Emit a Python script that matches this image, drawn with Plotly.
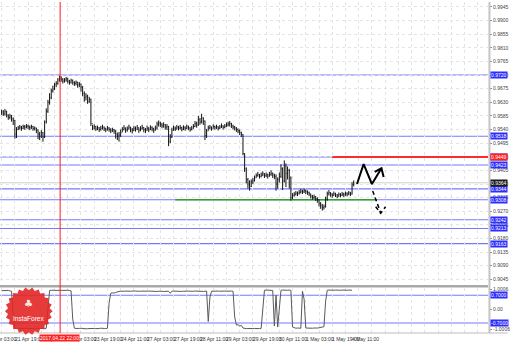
import numpy as np
import plotly.graph_objects as go

# ---------------- DATA ----------------
price_close = [
    0.9598, 0.9592, 0.9600, 0.9588, 0.9580, 0.9585, 0.9575, 0.9570,
    0.9525, 0.9540,
    0.9545, 0.9548, 0.9544, 0.9550, 0.9547, 0.9552, 0.9549, 0.9546, 0.9550, 0.9543, 0.9545, 0.9538,
    0.9525, 0.9518, 0.9530, 0.9515,
    0.9565, 0.9600, 0.9630,
    0.9645, 0.9668, 0.9675, 0.9688, 0.9692,
    0.9704, 0.9710, 0.9706, 0.9700,
    0.9704, 0.9708, 0.9700, 0.9696, 0.9703, 0.9695, 0.9692, 0.9696, 0.9688, 0.9690, 0.9680,
    0.9660, 0.9645, 0.9650, 0.9632, 0.9640,
    0.9560,
    0.9545, 0.9550, 0.9542, 0.9546, 0.9540, 0.9544, 0.9548, 0.9543, 0.9539, 0.9545, 0.9541, 0.9536, 0.9540, 0.9535,
    0.9525, 0.9518, 0.9522, 0.9530,
    0.9540, 0.9545, 0.9538, 0.9542, 0.9548, 0.9540, 0.9536, 0.9544, 0.9541, 0.9546, 0.9538, 0.9543, 0.9547, 0.9540,
    0.9537, 0.9544, 0.9540, 0.9546, 0.9542, 0.9538, 0.9545,
    0.9558, 0.9562, 0.9556,
    0.9552, 0.9556, 0.9548, 0.9550,
    0.9500, 0.9515,
    0.9538, 0.9545, 0.9542, 0.9548, 0.9544, 0.9547, 0.9541, 0.9546, 0.9543, 0.9549, 0.9545, 0.9540, 0.9544, 0.9550,
    0.9560, 0.9555, 0.9572, 0.9565, 0.9578, 0.9568,
    0.9520, 0.9535,
    0.9545, 0.9548, 0.9543, 0.9550, 0.9546, 0.9549, 0.9544, 0.9548, 0.9552, 0.9547, 0.9551, 0.9555, 0.9558,
    0.9560, 0.9552, 0.9548, 0.9545, 0.9540, 0.9536, 0.9530, 0.9524,
    0.9460, 0.9410, 0.9375, 0.9360, 0.9352,
    0.9368, 0.9372, 0.9380,
    0.9388, 0.9392, 0.9385, 0.9390, 0.9394, 0.9388, 0.9391, 0.9386, 0.9392, 0.9395, 0.9389, 0.9385,
    0.9360, 0.9375, 0.9385,
    0.9410, 0.9370, 0.9420, 0.9395, 0.9405, 0.9380,
    0.9315,
    0.9322, 0.9326, 0.9330, 0.9328, 0.9332, 0.9336, 0.9334, 0.9338, 0.9335, 0.9332, 0.9328,
    0.9320, 0.9315, 0.9318, 0.9312, 0.9308,
    0.9295, 0.9290, 0.9282, 0.9285,
    0.9310, 0.9328, 0.9332,
    0.9326, 0.9322, 0.9328, 0.9324, 0.9320, 0.9325, 0.9323, 0.9327, 0.9324, 0.9328, 0.9326, 0.9330, 0.9327,
    0.9358, 0.9364,
]
price_high = [
    0.9606, 0.9604, 0.9608, 0.9602, 0.9590, 0.9592, 0.9588, 0.9580,
    0.9572, 0.9548,
    0.9552, 0.9555, 0.9552, 0.9556, 0.9555, 0.9558, 0.9556, 0.9553, 0.9556, 0.9552, 0.9550, 0.9546,
    0.9540, 0.9532, 0.9538, 0.9532,
    0.9570, 0.9610, 0.9638,
    0.9660, 0.9675, 0.9685, 0.9694, 0.9700,
    0.9710, 0.9718, 0.9716, 0.9710,
    0.9710, 0.9714, 0.9711, 0.9704, 0.9708, 0.9705, 0.9700, 0.9702, 0.9698, 0.9697, 0.9692,
    0.9684, 0.9666, 0.9660, 0.9655, 0.9648,
    0.9642,
    0.9556, 0.9557, 0.9552, 0.9553, 0.9548, 0.9552, 0.9556, 0.9550, 0.9546, 0.9552, 0.9548, 0.9544, 0.9546, 0.9542,
    0.9538, 0.9530, 0.9532, 0.9540,
    0.9548, 0.9554, 0.9547, 0.9550, 0.9556, 0.9549, 0.9545, 0.9552, 0.9550, 0.9555, 0.9547, 0.9551, 0.9556, 0.9548,
    0.9545, 0.9553, 0.9548, 0.9554, 0.9551, 0.9546, 0.9553,
    0.9566, 0.9570, 0.9566,
    0.9562, 0.9564, 0.9558, 0.9558,
    0.9552, 0.9525,
    0.9546, 0.9553, 0.9550, 0.9555, 0.9552, 0.9555, 0.9549, 0.9554, 0.9551, 0.9556, 0.9553, 0.9548, 0.9552, 0.9558,
    0.9568, 0.9566, 0.9585, 0.9578, 0.9592, 0.9580,
    0.9570, 0.9542,
    0.9553, 0.9555, 0.9550, 0.9557, 0.9553, 0.9556, 0.9551, 0.9555, 0.9560, 0.9554, 0.9558, 0.9563, 0.9566,
    0.9568, 0.9562, 0.9556, 0.9552, 0.9548, 0.9544, 0.9540, 0.9533,
    0.9525, 0.9462, 0.9415, 0.9380, 0.9372,
    0.9375, 0.9380, 0.9388,
    0.9395, 0.9400, 0.9393, 0.9398, 0.9402, 0.9396, 0.9398, 0.9394, 0.9400, 0.9405, 0.9398, 0.9394,
    0.9392, 0.9382, 0.9398,
    0.9425, 0.9415, 0.9438, 0.9428, 0.9418, 0.9410,
    0.9385,
    0.9330, 0.9333, 0.9337, 0.9335, 0.9340, 0.9344, 0.9341, 0.9345, 0.9342, 0.9339, 0.9335,
    0.9328, 0.9324, 0.9325, 0.9320, 0.9316,
    0.9310, 0.9300, 0.9294, 0.9292,
    0.9318, 0.9335, 0.9340,
    0.9333, 0.9330, 0.9335, 0.9331, 0.9327, 0.9332, 0.9330, 0.9334, 0.9331, 0.9335, 0.9333, 0.9337, 0.9334,
    0.9366, 0.9372,
]
price_low = [
    0.9588, 0.9585, 0.9586, 0.9580, 0.9572, 0.9574, 0.9566, 0.9555,
    0.9510, 0.9512,
    0.9538, 0.9540, 0.9536, 0.9541, 0.9539, 0.9544, 0.9541, 0.9538, 0.9542, 0.9536, 0.9537, 0.9528,
    0.9508, 0.9505, 0.9512, 0.9500,
    0.9512, 0.9560, 0.9595,
    0.9622, 0.9640, 0.9662, 0.9670, 0.9680,
    0.9688, 0.9698, 0.9698, 0.9692,
    0.9695, 0.9698, 0.9692, 0.9688, 0.9692, 0.9688, 0.9684, 0.9686, 0.9678, 0.9680, 0.9665,
    0.9650, 0.9632, 0.9636, 0.9625, 0.9628,
    0.9552,
    0.9538, 0.9540, 0.9535, 0.9538, 0.9532, 0.9536, 0.9540, 0.9535, 0.9531, 0.9537, 0.9533, 0.9528, 0.9532, 0.9526,
    0.9510, 0.9505, 0.9500, 0.9515,
    0.9532, 0.9537, 0.9529, 0.9533, 0.9540, 0.9531, 0.9527, 0.9535, 0.9533, 0.9538, 0.9529, 0.9534, 0.9539, 0.9531,
    0.9528, 0.9536, 0.9531, 0.9538, 0.9534, 0.9529, 0.9536,
    0.9540, 0.9550, 0.9548,
    0.9544, 0.9546, 0.9540, 0.9538,
    0.9485, 0.9495,
    0.9512, 0.9536, 0.9535, 0.9540, 0.9537, 0.9540, 0.9534, 0.9538, 0.9536, 0.9542, 0.9538, 0.9533, 0.9537, 0.9543,
    0.9548, 0.9546, 0.9552, 0.9556, 0.9560, 0.9555,
    0.9505, 0.9512,
    0.9536, 0.9540, 0.9536, 0.9543, 0.9539, 0.9542, 0.9537, 0.9541, 0.9545, 0.9540, 0.9544, 0.9548, 0.9550,
    0.9550, 0.9545, 0.9540, 0.9537, 0.9532, 0.9528, 0.9522, 0.9515,
    0.9455, 0.9400, 0.9362, 0.9345, 0.9338,
    0.9350, 0.9360, 0.9368,
    0.9380, 0.9384, 0.9378, 0.9382, 0.9386, 0.9380, 0.9383, 0.9378, 0.9384, 0.9387, 0.9380, 0.9376,
    0.9338, 0.9345, 0.9365,
    0.9380, 0.9340, 0.9365, 0.9350, 0.9375, 0.9345,
    0.9305,
    0.9310, 0.9318, 0.9322, 0.9320, 0.9325, 0.9329, 0.9327, 0.9330, 0.9327, 0.9324, 0.9320,
    0.9312, 0.9308, 0.9310, 0.9304, 0.9298,
    0.9286, 0.9278, 0.9272, 0.9275,
    0.9282, 0.9305, 0.9322,
    0.9318, 0.9315, 0.9321, 0.9317, 0.9313, 0.9318, 0.9316, 0.9320, 0.9317, 0.9321, 0.9319, 0.9323, 0.9320,
    0.9325, 0.9352,
]

indicator = (
    [0.93, 0.94, 0.95, 0.93, 0.94, 0.92, 0.90]
    + [-0.30]
    + [-0.97, -0.98, -0.96, -0.98, -0.97, -0.99, -0.98, -0.96, -0.97, -0.98,
       -0.99, -0.97, -0.98, -0.96, -0.97, -0.98, -0.99, -0.97, -0.98, -0.96]
    + [0.20]
    + [0.94, 0.95, 0.96, 0.95, 0.94, 0.95, 0.96, 0.95, 0.94, 0.95, 0.96, 0.95, 0.94, 0.92]
    + [-0.50]
    + [-0.96, -0.97, -0.98, -0.97, -0.96, -0.98, -0.97, -0.99, -0.98, -0.97, -0.96,
       -0.98, -0.97, -0.98, -0.99, -0.97, -0.96, -0.98, -0.97, -0.98, -0.96]
    + [0.30]
    + [0.80, 0.82, 0.81, 0.84]
    + [0.88, 0.89, 0.90, 0.89, 0.90, 0.91, 0.90, 0.89, 0.90, 0.91, 0.92, 0.91, 0.90, 0.89, 0.90, 0.91,
       0.90, 0.89, 0.90, 0.91, 0.90, 0.92, 0.91, 0.90, 0.89, 0.90, 0.91, 0.90, 0.89, 0.90, 0.91, 0.90]
    + [0.80]
    + [0.90, 0.91, 0.90, 0.92, 0.91, 0.90, 0.89, 0.90, 0.91, 0.92, 0.91,
       0.90, 0.89, 0.90, 0.91, 0.90, 0.92, 0.91, 0.90, 0.89, 0.90, 0.91]
    + [-0.62]
    + [0.60]
    + [0.90, 0.91, 0.90, 0.92, 0.91, 0.90, 0.91, 0.92, 0.91, 0.90, 0.91, 0.92, 0.91, 0.90]
    + [-0.40]
    + [-0.80, -0.78, -0.85, -0.82, -0.95, -0.97, -0.98, -0.97, -0.98, -0.99, -0.98, -0.97, -0.98, -0.99, -0.98, -0.97]
    + [0.10]
    + [0.95, 0.96, 0.95, 0.96, 0.95, 0.94]
    + [-0.85]
    + [0.70]
    + [-0.90]
    + [0.20]
    + [0.95, 0.96, 0.95, 0.96, 0.95, 0.96, 0.94]
    + [-0.90]
    + [-0.95, -0.96, -0.95, -0.97, -0.96]
    + [0.90]
    + [0.50]
    + [-0.95, -0.96, -0.95, -0.97, -0.96, -0.95, -0.96, -0.95, -0.94, -0.92, -0.90, -0.88]
    + [0.40]
    + [0.95, 0.96, 0.95, 0.96, 0.95, 0.96, 0.95, 0.96, 0.95, 0.96, 0.95, 0.96, 0.95, 0.96, 0.95, 0.95]
)

price_ticks = [0.9945, 0.9900, 0.9855, 0.9810, 0.9765, 0.9720, 0.9675, 0.9630, 0.9585, 0.9540,
               0.9495, 0.9450, 0.9405, 0.9360, 0.9315, 0.9270, 0.9225, 0.9180, 0.9135, 0.9090, 0.9045]

time_label_bars = [-8, 8, 24, 40, 56, 72, 88, 104, 120, 136, 152, 168, 184, 200, 212]
time_labels = ["21 Apr 03:00", "21 Apr 19:00", "22 Apr 11:00", "23 Apr 03:00", "23 Apr 19:00",
               "24 Apr 11:00", "27 Apr 03:00", "27 Apr 19:00", "28 Apr 11:00", "29 Apr 03:00",
               "29 Apr 19:00", "30 Apr 11:00", "1 May 03:00", "1 May 19:00", "4 May 11:00"]

blue_levels = [0.9720, 0.9518, 0.9449, 0.9423, 0.9344, 0.9308, 0.9242, 0.9213, 0.9163]
red_level = 0.9449
red_start_bar = 200
green_level = 0.9308
green_bars = [105, 227]

indicator_levels = [0.7, -0.7]
indicator_tickvals = [1.0, 0.0, -1.0]
indicator_ticktext = ["1.0006", "0.00", "-1.0006"]

cursor_bar = 35
cursor_label = "2017.04.22 22:00"

forecast_up_bars = [215, 219, 224, 229.8, None, 225.7, 229.8, 231.1]
forecast_up_prices = [0.9360, 0.9426, 0.9360, 0.9412, None, 0.9400, 0.9412, 0.9383]
forecast_down_bars = [224.5, 229.3, None, 226.3, 229.3, 232.3]
forecast_down_prices = [0.9337, 0.9265, None, 0.9285, 0.9263, 0.9285]

# ---------------- FIGURE ----------------
n = len(price_close)
bars = list(range(n))
price_open = [price_close[0]] + price_close[:-1]

BLUE_LINE = "#7777ff"
BLUE_LABEL = "#2d2dff"
GRID = "#e4e4e4"
FONT = "Liberation Sans"
X_RANGE = [-1, 294.25]

fig = go.Figure()
fig.add_trace(go.Ohlc(
    x=bars, open=price_open, high=price_high, low=price_low, close=price_close,
    increasing=dict(line=dict(color="#111111", width=1)),
    decreasing=dict(line=dict(color="#111111", width=1)),
    tickwidth=0.3, xaxis="x", yaxis="y", showlegend=False, hoverinfo="skip"))

fig.add_trace(go.Scatter(
    x=list(range(len(indicator))), y=indicator, mode="lines",
    line=dict(color="#5a5a5a", width=1), xaxis="x2", yaxis="y2",
    showlegend=False, hoverinfo="skip"))

fig.add_trace(go.Scatter(
    x=forecast_up_bars, y=forecast_up_prices, mode="lines",
    line=dict(color="#000000", width=2), xaxis="x", yaxis="y",
    showlegend=False, hoverinfo="skip", cliponaxis=False))
fig.add_trace(go.Scatter(
    x=forecast_down_bars, y=forecast_down_prices, mode="lines",
    line=dict(color="#000000", width=1.5, dash="4px,3px"), xaxis="x", yaxis="y",
    showlegend=False, hoverinfo="skip", cliponaxis=False))

shapes = []
annotations = []
label_font = dict(family=FONT, size=5, color="#ffffff")

# bid line
shapes.append(dict(type="line", xref="paper", x0=0, x1=1, yref="y", y0=price_close[-1], y1=price_close[-1],
                   line=dict(color="#d0d0d0", width=1), layer="between"))

for lv in blue_levels:
    shapes.append(dict(type="line", xref="paper", x0=0, x1=1, yref="y", y0=lv, y1=lv,
                       line=dict(color=BLUE_LINE, width=1.1), layer="between"))
    annotations.append(dict(xref="paper", x=1, xanchor="left", xshift=2, yref="y", y=lv,
                            text=f"{lv:.4f}", showarrow=False, font=label_font,
                            bgcolor=BLUE_LABEL, borderpad=0))

shapes.append(dict(type="line", xref="x", x0=red_start_bar, x1=X_RANGE[1], yref="y", y0=red_level, y1=red_level,
                   line=dict(color="#ff2a2a", width=2), layer="between"))
annotations.append(dict(xref="paper", x=1, xanchor="left", xshift=2, yref="y", y=red_level,
                        text=f"{red_level:.4f}", showarrow=False, font=label_font,
                        bgcolor="#ff2020", borderpad=0))
shapes.append(dict(type="line", xref="x", x0=green_bars[0], x1=green_bars[1], yref="y",
                   y0=green_level, y1=green_level, line=dict(color="#2ea02e", width=1.3), layer="between"))

annotations.append(dict(xref="paper", x=1, xanchor="left", xshift=2, yref="y", y=price_close[-1],
                        text=f"{price_close[-1]:.4f}", showarrow=False, font=label_font,
                        bgcolor="#1a1a1a", borderpad=0))

for lv in indicator_levels:
    shapes.append(dict(type="line", xref="paper", x0=0, x1=1, yref="y2", y0=lv, y1=lv,
                       line=dict(color=BLUE_LINE, width=1.1), layer="between"))
    annotations.append(dict(xref="paper", x=1, xanchor="left", xshift=2, yref="y2", y=lv,
                            text=f"{lv:.4f}", showarrow=False, font=label_font,
                            bgcolor=BLUE_LABEL, borderpad=0))

# separators
shapes.append(dict(type="line", xref="paper", x0=0, x1=1, yref="paper", y0=0.1411, y1=0.1411,
                   line=dict(color="#a8a8a8", width=2.5), layer="above"))
shapes.append(dict(type="line", xref="paper", x0=1.003, x1=1.003, yref="paper", y0=0, y1=1,
                   line=dict(color="#c4c4c4", width=2), layer="above"))
shapes.append(dict(type="line", xref="paper", x0=0, x1=1.04, yref="paper", y0=0, y1=0,
                   line=dict(color="#bdbdbd", width=1), layer="above"))

# cursor vertical line (red, full height)
W, H = 491.0, 333.0
x_span = X_RANGE[1] - X_RANGE[0]
cursor_px = round((cursor_bar - X_RANGE[0]) / x_span * W) + 0.5
shapes.append(dict(type="line", xref="paper", x0=cursor_px / W, x1=cursor_px / W, yref="paper", y0=0, y1=1,
                   line=dict(color="#ff1a1a", width=1), layer="above"))

# time labels (left-aligned at their bar, MT4 style)
for b, t in zip(time_label_bars, time_labels):
    annotations.append(dict(xref="paper", x=(b - X_RANGE[0]) / x_span, xanchor="left", xshift=-2,
                            yref="paper", y=0, yanchor="top",
                            yshift=-1, text=t, showarrow=False,
                            font=dict(family=FONT, size=5, color="#333333")))
annotations.append(dict(xref="paper", x=(cursor_bar - X_RANGE[0]) / x_span, xanchor="center",
                        yref="paper", y=0, yanchor="top",
                        yshift=-1, text=cursor_label, showarrow=False, font=label_font,
                        bgcolor="#ff2020", borderpad=0))

# InstaForex logo (serrated seal)
cx, cy, R = 29.0, 311.0, 24.0
teeth = 22
ang = np.linspace(0, 2 * np.pi, teeth * 2, endpoint=False)
rad = np.where(np.arange(teeth * 2) % 2 == 0, R, R * 0.88)
px = cx + rad * np.cos(ang)
py = cy + rad * np.sin(ang)
path = "M " + " L ".join(f"{x / W:.5f},{(H - y) / H:.5f}" for x, y in zip(px, py)) + " Z"
shapes.append(dict(type="path", xref="paper", yref="paper", path=path,
                   fillcolor="rgba(226,38,38,0.9)", line=dict(width=0), layer="above"))
annotations.append(dict(xref="paper", yref="paper", x=cx / W, y=(H - 318) / H, text="InstaForex",
                        xanchor="center", yanchor="middle",
                        showarrow=False, font=dict(family=FONT, size=6.5, color="#ffffff")))
annotations.append(dict(xref="paper", yref="paper", x=cx / W, y=(H - 303) / H, text="♣",
                        xanchor="center", yanchor="middle",
                        showarrow=False, font=dict(family="DejaVu Sans", size=10, color="#ffe6e6")))

fig.update_layout(
    width=510, height=342,
    margin=dict(l=0, r=19, t=0, b=9),
    paper_bgcolor="#ffffff", plot_bgcolor="#ffffff",
    showlegend=False,
    xaxis=dict(range=X_RANGE, anchor="y", showticklabels=False, ticks="",
               tickmode="linear", tick0=0, dtick=8, showgrid=True, gridcolor=GRID, griddash="dot",
               gridwidth=1, zeroline=False, showline=False, rangeslider=dict(visible=False)),
    xaxis2=dict(range=X_RANGE, anchor="y2", matches="x", showticklabels=False, ticks="",
                tickmode="linear", tick0=0, dtick=8, showgrid=True, gridcolor=GRID, griddash="dot",
                zeroline=False, showline=False),
    yaxis=dict(domain=[0.14715, 1.0], range=[0.90286, 0.99614], side="right",
               tickmode="array", tickvals=price_ticks, ticktext=[f"{v:.4f}" for v in price_ticks],
               ticks="outside", ticklen=3, tickcolor="#888888",
               tickfont=dict(family=FONT, size=5, color="#444444"),
               showgrid=True, gridcolor=GRID, griddash="dot", zeroline=False, showline=False),
    yaxis2=dict(domain=[0.0, 0.13514], range=[-1.2, 1.05], side="right",
                tickmode="array", tickvals=indicator_tickvals, ticktext=indicator_ticktext,
                ticks="outside", ticklen=3, tickcolor="#888888",
                tickfont=dict(family=FONT, size=5, color="#444444"),
                showgrid=False, zeroline=False, showline=False),
    shapes=shapes,
    annotations=annotations,
)

fig.write_html("out.html")
